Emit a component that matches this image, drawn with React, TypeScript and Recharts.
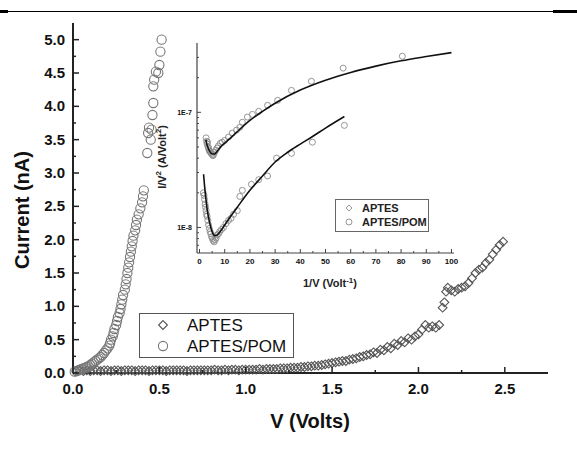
import React from 'react';
import { ScatterChart, Scatter, XAxis, YAxis } from 'recharts';

const FONT = 'Arial, "Liberation Sans", Helvetica, sans-serif';

// main I-V data, [V, nA]
const aptes: [number, number][] = [
  [0.02, 0.03], [0.04, 0.04], [0.06, 0.03], [0.08, 0.04], [0.1, 0.03], [0.12, 0.04], [0.14, 0.04],
  [0.16, 0.03], [0.18, 0.04], [0.2, 0.04], [0.22, 0.03], [0.24, 0.04], [0.26, 0.04], [0.28, 0.03],
  [0.3, 0.04], [0.32, 0.04], [0.34, 0.04], [0.36, 0.03], [0.38, 0.04], [0.4, 0.04], [0.42, 0.04],
  [0.44, 0.03], [0.46, 0.04], [0.48, 0.04], [0.5, 0.04], [0.52, 0.04], [0.54, 0.03], [0.56, 0.04],
  [0.58, 0.04], [0.6, 0.04], [0.62, 0.04], [0.64, 0.04], [0.66, 0.03], [0.68, 0.04], [0.7, 0.04],
  [0.72, 0.04], [0.74, 0.04], [0.76, 0.04], [0.78, 0.04], [0.8, 0.04], [0.82, 0.05], [0.84, 0.04],
  [0.86, 0.04], [0.88, 0.05], [0.9, 0.04], [0.92, 0.05], [0.94, 0.05], [0.96, 0.04], [0.98, 0.05],
  [1.0, 0.05], [1.02, 0.05], [1.04, 0.05], [1.06, 0.05], [1.08, 0.06], [1.1, 0.05], [1.12, 0.06],
  [1.14, 0.06], [1.16, 0.06], [1.18, 0.06], [1.2, 0.07], [1.22, 0.07], [1.24, 0.07], [1.26, 0.08],
  [1.28, 0.08], [1.3, 0.08], [1.32, 0.09], [1.34, 0.09], [1.36, 0.1], [1.38, 0.1], [1.4, 0.11],
  [1.42, 0.11], [1.44, 0.12], [1.46, 0.13], [1.48, 0.14], [1.5, 0.15], [1.52, 0.16], [1.54, 0.17],
  [1.56, 0.18], [1.58, 0.18], [1.6, 0.2], [1.62, 0.21], [1.64, 0.22], [1.66, 0.24], [1.68, 0.25],
  [1.7, 0.27], [1.72, 0.28], [1.74, 0.31], [1.76, 0.3], [1.78, 0.35], [1.8, 0.34], [1.82, 0.39],
  [1.84, 0.37], [1.86, 0.44], [1.88, 0.42], [1.9, 0.48], [1.92, 0.46], [1.94, 0.52], [1.96, 0.5],
  [1.98, 0.55], [2.0, 0.58], [2.02, 0.65], [2.04, 0.72], [2.06, 0.68], [2.08, 0.7], [2.1, 0.68],
  [2.12, 0.72], [2.14, 0.98], [2.15, 1.06], [2.16, 1.22], [2.17, 1.28], [2.19, 1.24], [2.21, 1.22],
  [2.23, 1.26], [2.25, 1.28], [2.27, 1.3], [2.29, 1.35], [2.31, 1.42], [2.33, 1.5], [2.35, 1.55],
  [2.37, 1.58], [2.39, 1.65], [2.41, 1.7], [2.43, 1.78], [2.45, 1.85], [2.47, 1.92], [2.49, 1.97],
];

const aptesPom: [number, number][] = [
  [0.01, 0.02], [0.02, 0.03], [0.03, 0.04], [0.04, 0.05], [0.05, 0.06], [0.06, 0.07], [0.07, 0.08],
  [0.08, 0.09], [0.09, 0.1], [0.1, 0.12], [0.11, 0.14], [0.12, 0.16], [0.13, 0.18], [0.14, 0.2],
  [0.15, 0.22], [0.16, 0.24], [0.17, 0.27], [0.18, 0.3], [0.19, 0.34], [0.2, 0.37], [0.21, 0.41],
  [0.215, 0.45], [0.22, 0.5], [0.23, 0.55], [0.235, 0.6], [0.24, 0.66], [0.25, 0.72], [0.255, 0.78],
  [0.26, 0.84], [0.27, 0.9], [0.275, 0.96], [0.28, 1.03], [0.285, 1.1], [0.29, 1.17], [0.3, 1.25],
  [0.305, 1.33], [0.31, 1.41], [0.315, 1.5], [0.32, 1.58], [0.325, 1.66], [0.33, 1.74], [0.335, 1.82],
  [0.34, 1.9], [0.345, 1.98], [0.35, 2.06], [0.36, 2.14], [0.365, 2.22], [0.37, 2.3], [0.38, 2.38],
  [0.39, 2.47], [0.4, 2.56], [0.405, 2.65], [0.41, 2.74], [0.43, 3.3], [0.45, 3.5], [0.435, 3.6],
  [0.44, 3.68], [0.455, 3.65], [0.46, 3.87], [0.465, 4.05], [0.465, 4.3], [0.47, 4.4], [0.48, 4.52],
  [0.494, 4.5], [0.5, 4.62], [0.506, 4.82], [0.513, 5.0],
];

// inset: I/V^2 vs 1/V
const insetUpper: [number, number][] = [
  [2.6, 6.0e-8], [2.8, 5.6e-8], [3.0, 5.3e-8], [3.2, 5.5e-8], [3.4, 5.0e-8], [3.6, 4.9e-8],
  [3.8, 4.7e-8], [4.0, 4.6e-8], [4.3, 4.5e-8], [4.6, 4.4e-8], [5.0, 4.3e-8], [5.3, 4.2e-8],
  [5.6, 4.3e-8], [6.0, 4.5e-8], [6.5, 4.7e-8], [7.0, 4.9e-8], [7.5, 5.1e-8], [8.3, 5.4e-8],
  [9.0, 5.5e-8], [10, 5.7e-8], [11.5, 6.1e-8], [13, 6.6e-8], [14.7, 7.0e-8], [16, 7.4e-8],
  [17, 8.2e-8], [19, 9.1e-8], [21, 9.6e-8], [23.5, 1.02e-7], [27, 1.15e-7], [31, 1.27e-7],
  [36.5, 1.55e-7], [44.4, 1.86e-7], [57, 2.42e-7], [80.5, 3.07e-7],
];
const fitUpper: [number, number][] = [
  [2.5, 5.8e-8], [3, 5.2e-8], [4, 4.6e-8], [5, 4.35e-8], [6, 4.35e-8], [7, 4.6e-8], [8, 4.9e-8],
  [10, 5.4e-8], [12, 5.9e-8], [15, 6.8e-8], [20, 8.5e-8], [25, 1.02e-7], [30, 1.2e-7],
  [40, 1.56e-7], [50, 1.9e-7], [60, 2.22e-7], [70, 2.52e-7], [80, 2.8e-7], [90, 3.05e-7], [100, 3.3e-7],
];
const insetLower: [number, number][] = [
  [1.5, 2.0e-8], [1.8, 1.9e-8], [2.0, 1.75e-8], [2.2, 1.6e-8], [2.4, 1.5e-8], [2.6, 1.4e-8],
  [2.8, 1.3e-8], [3.0, 1.25e-8], [3.3, 1.15e-8], [3.6, 1.05e-8], [3.9, 9.8e-9], [4.2, 9.2e-9],
  [4.5, 8.8e-9], [4.8, 8.3e-9], [5.1, 8.0e-9], [5.4, 7.7e-9], [5.8, 7.5e-9], [6.2, 7.8e-9],
  [6.6, 8.1e-9], [7, 8.6e-9], [7.5, 8.8e-9], [8, 9.2e-9], [8.7, 9.6e-9], [9.5, 1.0e-8],
  [10.5, 1.08e-8], [11.5, 1.15e-8], [12.5, 1.2e-8], [13.5, 1.3e-8], [15, 1.4e-8], [16, 1.86e-8],
  [17, 2.1e-8], [20.6, 2.37e-8], [23.5, 2.6e-8], [27, 2.8e-8], [30.6, 4.0e-8], [36.5, 4.4e-8],
  [44.8, 5.5e-8], [57.5, 7.7e-8],
];
const fitLower: [number, number][] = [
  [1.6, 2.9e-8], [2, 2.3e-8], [2.5, 1.8e-8], [3, 1.45e-8], [4, 1.1e-8], [5, 9.2e-9], [6, 8.5e-9],
  [7, 8.6e-9], [8, 9.1e-9], [10, 1.05e-8], [12, 1.22e-8], [15, 1.5e-8], [20, 2.1e-8], [25, 2.8e-8],
  [30, 3.7e-8], [35, 4.5e-8], [40, 5.3e-8], [45, 6.2e-8], [50, 7.3e-8], [57.5, 9.2e-8],
];

const mainXTicks = [0, 0.25, 0.5, 0.75, 1, 1.25, 1.5, 1.75, 2, 2.25, 2.5];
const mainYTicks = [0, 0.25, 0.5, 0.75, 1, 1.25, 1.5, 1.75, 2, 2.25, 2.5, 2.75, 3, 3.25, 3.5, 3.75, 4, 4.25, 4.5, 4.75, 5];
const insetXTicks = [0, 5, 10, 15, 20, 25, 30, 35, 40, 45, 50, 55, 60, 65, 70, 75, 80, 85, 90, 95, 100];
const insetYTicks = [7e-9, 8e-9, 9e-9, 1e-8, 2e-8, 3e-8, 4e-8, 5e-8, 6e-8, 7e-8, 8e-8, 9e-8, 1e-7, 2e-7, 3e-7];
const seriesNames = ['APTES', 'APTES/POM'];

const toPts = (arr: [number, number][]) => arr.map(([x, y]) => ({ x, y }));

const Diamond = (p: any) => {
  const { cx, cy } = p;
  const r = 4.4;
  return <polygon points={`${cx},${cy - r} ${cx + r},${cy} ${cx},${cy + r} ${cx - r},${cy}`} fill="none" stroke="#555" strokeWidth={1.1} />;
};
const RingDot = (p: any) => <circle cx={p.cx} cy={p.cy} r={4.6} fill="none" stroke="#777" strokeWidth={1.1} />;
const SmallCircle = (p: any) => <circle cx={p.cx} cy={p.cy} r={3} fill="none" stroke="#8a8a8a" strokeWidth={0.9} />;
const NoDot = () => <g />;

const near = (v: number, step: number) => Math.abs(v / step - Math.round(v / step)) < 1e-6;
const isDecade = (v: number) => near(Math.log10(v), 1);

type Side = 'bottom' | 'top' | 'left' | 'right';
const makeTick =
  (side: Side, isMajor: (v: number) => boolean, long: number, short: number, color: string, sw: number,
    label?: { fmt: (v: number) => string; size: number; dx: number; dy: number }) =>
  (p: any) => {
    const v = p.payload.value;
    const major = isMajor(v);
    const len = major ? long : short;
    const { x, y } = p;
    let l = [x, y, x, y - len];
    if (side === 'top') l = [x, y, x, y + len];
    if (side === 'left') l = [x, y, x + len, y];
    if (side === 'right') l = [x, y, x - len, y];
    return (
      <g>
        <line x1={l[0]} y1={l[1]} x2={l[2]} y2={l[3]} stroke={color} strokeWidth={sw} />
        {major && label && (
          <text
            x={side === 'bottom' ? x : x - label.dx}
            y={y + label.dy}
            textAnchor={side === 'bottom' ? 'middle' : 'end'}
            fontSize={label.size}
            fontWeight="bold"
            fontFamily={FONT}
            fill="#111"
          >
            {label.fmt(v)}
          </text>
        )}
      </g>
    );
  };

const halfMajor = (v: number) => near(v, 0.5);
const tenMajor = (v: number) => near(v, 10);
const oneDec = (v: number) => v.toFixed(1);
const sciFmt = (v: number) => `1E${Math.round(Math.log10(v))}`;

const MainChart = () => (
  <ScatterChart width={577} height={457} margin={{ top: 23, right: 29, bottom: 14, left: 13 }}>
    <XAxis
      type="number" dataKey="x" domain={[0, 2.75]} ticks={mainXTicks} interval={0}
      tickSize={0} tickMargin={0} tickLine={false} height={70}
      axisLine={{ stroke: '#222', strokeWidth: 2 }}
      tick={makeTick('bottom', halfMajor, 6, 3, '#222', 1.5, { fmt: oneDec, size: 15, dx: 0, dy: 21 })}
      label={() => (
        <text x={310} y={428} textAnchor="middle" fontSize={20} fontWeight="bold" fontFamily={FONT} fill="#111">V (Volts)</text>
      )}
    />
    <XAxis
      xAxisId="top" orientation="top" type="number" dataKey="x" domain={[0, 2.75]} ticks={mainXTicks} interval={0}
      tickSize={0} tickMargin={0} tickLine={false} height={0}
      axisLine={{ stroke: '#222', strokeWidth: 2 }}
      tick={makeTick('top', halfMajor, 6, 3, '#222', 1.5)}
    />
    <YAxis
      type="number" dataKey="y" domain={[0, 5.25]} ticks={mainYTicks} interval={0}
      tickSize={0} tickMargin={0} tickLine={false} width={60}
      axisLine={{ stroke: '#222', strokeWidth: 2 }}
      tick={makeTick('left', halfMajor, 6, 3, '#222', 1.5, { fmt: oneDec, size: 15, dx: 8, dy: 5 })}
      label={() => (
        <text x={22} y={210} transform="rotate(-90 22 210)" textAnchor="middle" dominantBaseline="central"
          fontSize={20} fontWeight="bold" fontFamily={FONT} fill="#111">Current (nA)</text>
      )}
    />
    <YAxis
      yAxisId="right" orientation="right" type="number" dataKey="y" domain={[0, 5.25]} ticks={mainYTicks} interval={0}
      tickSize={0} tickMargin={0} tickLine={false} width={0}
      axisLine={{ stroke: '#222', strokeWidth: 2 }}
      tick={makeTick('right', halfMajor, 6, 3, '#222', 1.5)}
    />
    <Scatter name={seriesNames[0]} data={toPts(aptes)} shape={Diamond} isAnimationActive={false} />
    <Scatter name={seriesNames[1]} data={toPts(aptesPom)} shape={RingDot} isAnimationActive={false} />
  </ScatterChart>
);

const InsetChart = () => (
  <ScatterChart width={330} height={265} margin={{ top: 8, right: 16, bottom: 7, left: 27 }}>
    <XAxis
      type="number" dataKey="x" domain={[-1, 101]} ticks={insetXTicks} interval={0}
      tickSize={0} tickMargin={0} tickLine={false} height={40}
      axisLine={{ stroke: '#444', strokeWidth: 1.2 }}
      tick={makeTick('bottom', tenMajor, 4, 2, '#444', 1, { fmt: (v) => String(v), size: 8, dx: 0, dy: 11 })}
      label={() => (
        <text x={190} y={252} textAnchor="middle" fontSize={11} fontWeight="bold" fontFamily={FONT} fill="#222">
          1/V (Volt<tspan dy={-4} fontSize={8}>-1</tspan><tspan dy={4}>)</tspan>
        </text>
      )}
    />
    <XAxis
      xAxisId="top" orientation="top" type="number" dataKey="x" domain={[-1, 101]} ticks={insetXTicks} interval={0}
      tickSize={0} tickMargin={0} tickLine={false} height={0}
      axisLine={{ stroke: '#444', strokeWidth: 1.2 }}
      tick={makeTick('top', tenMajor, 4, 2, '#444', 1)}
    />
    <YAxis
      type="number" dataKey="y" scale="log" domain={[6e-9, 4e-7]} ticks={insetYTicks} interval={0} allowDataOverflow
      tickSize={0} tickMargin={0} tickLine={false} width={30}
      axisLine={{ stroke: '#444', strokeWidth: 1.2 }}
      tick={makeTick('left', isDecade, 4, 2, '#444', 1, { fmt: sciFmt, size: 7, dx: 5, dy: 2.5 })}
      label={() => (
        <text x={22} y={122} transform="rotate(-90 22 122)" textAnchor="middle" dominantBaseline="central"
          fontSize={11} fontWeight="bold" fontFamily={FONT} fill="#222">
          I/V<tspan dy={-4} fontSize={8}>2</tspan><tspan dy={4}> (A/Volt</tspan><tspan dy={-4} fontSize={8}>2</tspan><tspan dy={4}>)</tspan>
        </text>
      )}
    />
    <YAxis
      yAxisId="right" orientation="right" type="number" dataKey="y" scale="log" domain={[6e-9, 4e-7]} ticks={insetYTicks}
      interval={0} allowDataOverflow tickSize={0} tickMargin={0} tickLine={false} width={0}
      axisLine={{ stroke: '#444', strokeWidth: 1.2 }}
      tick={makeTick('right', isDecade, 4, 2, '#444', 1)}
    />
    <Scatter name={seriesNames[1]} data={toPts(insetUpper)} shape={SmallCircle} isAnimationActive={false} />
    <Scatter name={seriesNames[0]} data={toPts(insetLower)} shape={SmallCircle} isAnimationActive={false} />
    <Scatter data={toPts(fitUpper)} shape={NoDot} line={{ stroke: '#111', strokeWidth: 1.6 }} lineJointType="monotoneX" isAnimationActive={false} />
    <Scatter data={toPts(fitLower)} shape={NoDot} line={{ stroke: '#111', strokeWidth: 1.6 }} lineJointType="monotoneX" isAnimationActive={false} />
  </ScatterChart>
);

// both legends drawn as a plain svg overlay
const Legends = () => (
  <svg width={577} height={457} style={{ position: 'absolute', left: 0, top: 0, pointerEvents: 'none' }}>
    <rect x={139.5} y={313.5} width={154} height={44} fill="#fff" stroke="#555" strokeWidth={1} />
    <Diamond cx={163} cy={325} />
    <text x={187} y={331} fontSize={17} fontFamily={FONT} fill="#111">{seriesNames[0]}</text>
    <RingDot cx={163} cy={346} />
    <text x={187} y={352} fontSize={17} fontFamily={FONT} fill="#111">{seriesNames[1]}</text>

    <rect x={335.5} y={199.5} width={93} height={32} fill="#fff" stroke="#666" strokeWidth={1} />
    <polygon points="349,205 352,208 349,211 346,208" fill="none" stroke="#888" strokeWidth={0.9} />
    <text x={362} y={212} fontSize={11} fontWeight="bold" fontFamily={FONT} fill="#222">{seriesNames[0]}</text>
    <SmallCircle cx={349} cy={222} />
    <text x={362} y={226} fontSize={11} fontWeight="bold" fontFamily={FONT} fill="#222">{seriesNames[1]}</text>
  </svg>
);

export default function App() {
  return (
    <div style={{ position: 'absolute', left: 0, top: 0, width: 577, height: 457, background: '#fff', overflow: 'hidden' }}>
      <div style={{ position: 'absolute', left: 0, top: 11, width: 553, height: 1, background: '#000' }} />
      <div style={{ position: 'absolute', left: 0, top: 10, width: 8, height: 2.5, background: '#000' }} />
      <div style={{ position: 'absolute', left: 553, top: 10, width: 24, height: 3, background: '#000' }} />
      <div style={{ position: 'absolute', left: 0, top: 0 }}>
        <MainChart />
      </div>
      <div style={{ position: 'absolute', left: 140, top: 35 }}>
        <InsetChart />
      </div>
      <Legends />
    </div>
  );
}
